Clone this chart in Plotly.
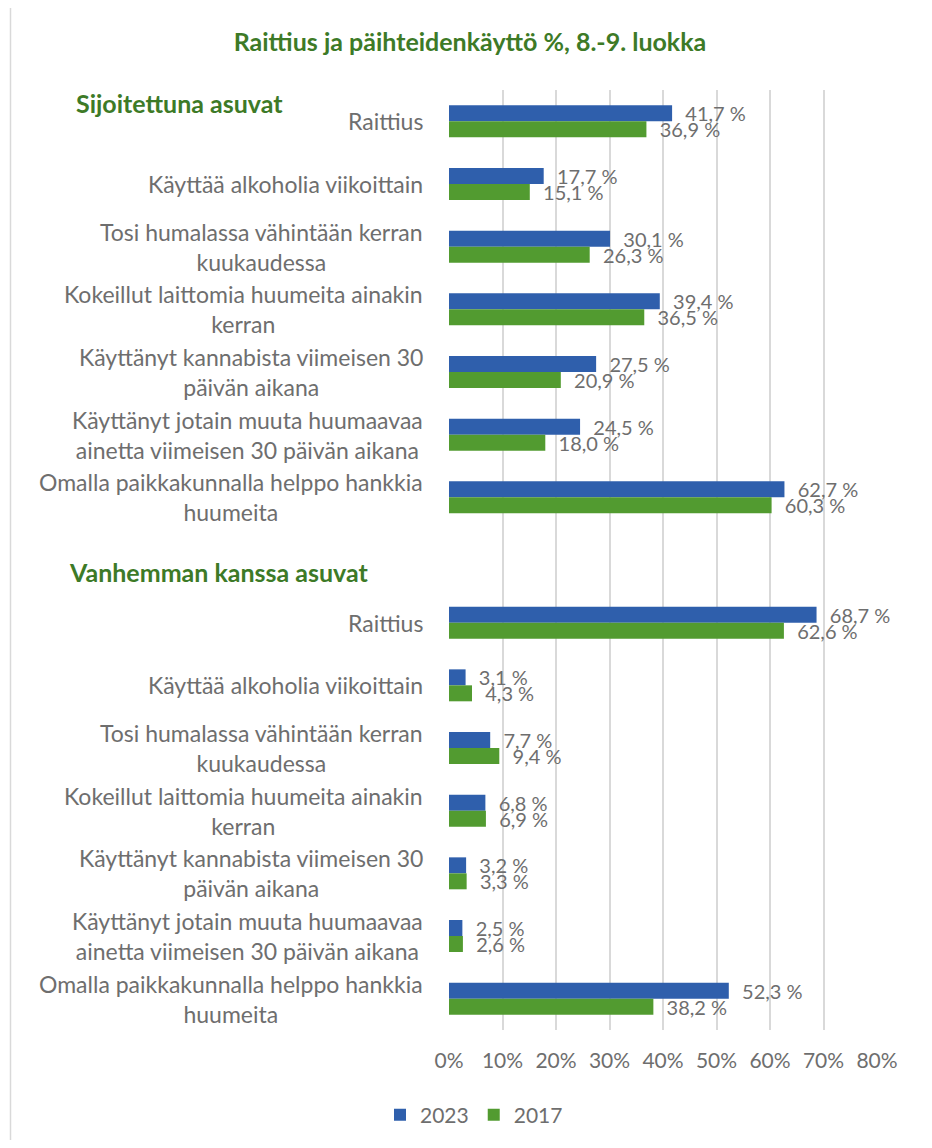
import plotly.graph_objects as go

# ---- data ----
categories = [
    "Raittius",
    "Käyttää alkoholia viikoittain",
    "Tosi humalassa vähintään kerran<br>kuukaudessa",
    "Kokeillut laittomia huumeita ainakin<br>kerran",
    "Käyttänyt kannabista viimeisen 30<br>päivän aikana",
    "Käyttänyt jotain muuta huumaavaa<br>ainetta viimeisen 30 päivän aikana",
    "Omalla paikkakunnalla helppo hankkia<br>huumeita",
]
groups = ["Sijoitettuna asuvat", "Vanhemman kanssa asuvat"]

sij_2023 = [41.7, 17.7, 30.1, 39.4, 27.5, 24.5, 62.7]
sij_2017 = [36.9, 15.1, 26.3, 36.5, 20.9, 18.0, 60.3]
van_2023 = [68.7, 3.1, 7.7, 6.8, 3.2, 2.5, 52.3]
van_2017 = [62.6, 4.3, 9.4, 6.9, 3.3, 2.6, 38.2]

x_ticks = [0, 10, 20, 30, 40, 50, 60, 70, 80]
title = "Raittius ja päihteidenkäyttö %, 8.-9. luokka"

# ---- build ----
n = len(categories)
pos1 = list(range(n))
pos2 = [n + 1 + i for i in range(n)]
ypos = pos1 + pos2
v2023 = sij_2023 + van_2023
v2017 = sij_2017 + van_2017

BLUE = "#2F5FAC"
GREEN = "#529B30"
TXT = "#6e6e6e"
TGREEN = "#3D7A27"
FONT = "Lato"

# page has an 8px body margin; target pixel coords are in page space
OFF = 8
W, H = 932 - 2 * OFF, 1148 - 2 * OFF
PL, PR, PT, PB = 449, 877, 90, 1030          # plot area in page pixels
L, T = PL - OFF, PT - OFF
R, B = W - (PR - OFF), H - (PB - OFF)
pw, ph = PR - PL, PB - PT


def px(xp):
    return (xp - PL) / pw


def py(yp):
    return (PB - yp) / ph


fig = go.Figure()
for name, vals, col in [("2023", v2023, BLUE), ("2017", v2017, GREEN)]:
    fig.add_trace(go.Bar(
        y=ypos, x=vals, name=name, orientation="h",
        marker=dict(color=col, line=dict(width=0)),
        texttemplate="\u00a0\u00a0%{x:.1f} %",
        textposition="outside", constraintext="none", cliponaxis=False,
        textfont=dict(family=FONT, size=20, color=TXT),
        hoverinfo="skip",
    ))

annotations = []
for i, c in enumerate(categories):
    for p in (pos1[i], pos2[i]):
        annotations.append(dict(
            x=px(425), xref="paper", y=p, yref="y",
            text=c, showarrow=False, xanchor="right", yanchor="middle",
            align="center", font=dict(family=FONT, size=23, color=TXT),
        ))
annotations.append(dict(
    x=px(74), xref="paper", y=py(103), yref="paper",
    text="<b>" + groups[0] + "</b>", showarrow=False, xanchor="left", yanchor="middle",
    font=dict(family=FONT, size=25, color=TGREEN)))
annotations.append(dict(
    x=px(67), xref="paper", y=py(572), yref="paper",
    text="<b>" + groups[1] + "</b>", showarrow=False, xanchor="left", yanchor="middle",
    font=dict(family=FONT, size=25, color=TGREEN)))

shapes = [dict(
    type="rect", xref="paper", yref="paper",
    x0=px(10.5), x1=px(927),
    y0=py(1190), y1=py(5.5),
    line=dict(color="#d9d9d9", width=1.5), fillcolor="rgba(0,0,0,0)", layer="below")]

fig.update_layout(
    width=W, height=H,
    margin=dict(l=L, r=R, t=T, b=B, autoexpand=False),
    paper_bgcolor="white", plot_bgcolor="white",
    separators=", ",
    barmode="group", bargap=0.49, bargroupgap=0,
    title=dict(text="<b>" + title + "</b>", x=(470 - OFF) / W, xanchor="center",
               y=1 - (42 - OFF) / H, yanchor="middle",
               font=dict(family=FONT, size=25, color=TGREEN)),
    xaxis=dict(range=[0, 80], tickvals=x_ticks, ticktext=[f"{v}%" for v in x_ticks],
               showgrid=True, gridcolor="#d9d9d9", gridwidth=1.5,
               zeroline=False, showline=False, ticks="",
               tickfont=dict(family=FONT, size=21, color=TXT), ticklabelstandoff=16),
    yaxis=dict(range=[len(ypos) + 0.5, -0.5], tickvals=[], showticklabels=False,
               showgrid=False, zeroline=False, showline=False),
    legend=dict(orientation="h", x=px(474), xanchor="center", y=py(1115), yanchor="middle",
                font=dict(family=FONT, size=21, color=TXT), traceorder="normal",
                itemwidth=30),
    annotations=annotations, shapes=shapes,
    font=dict(family=FONT),
)

fig.write_html("out.html")
